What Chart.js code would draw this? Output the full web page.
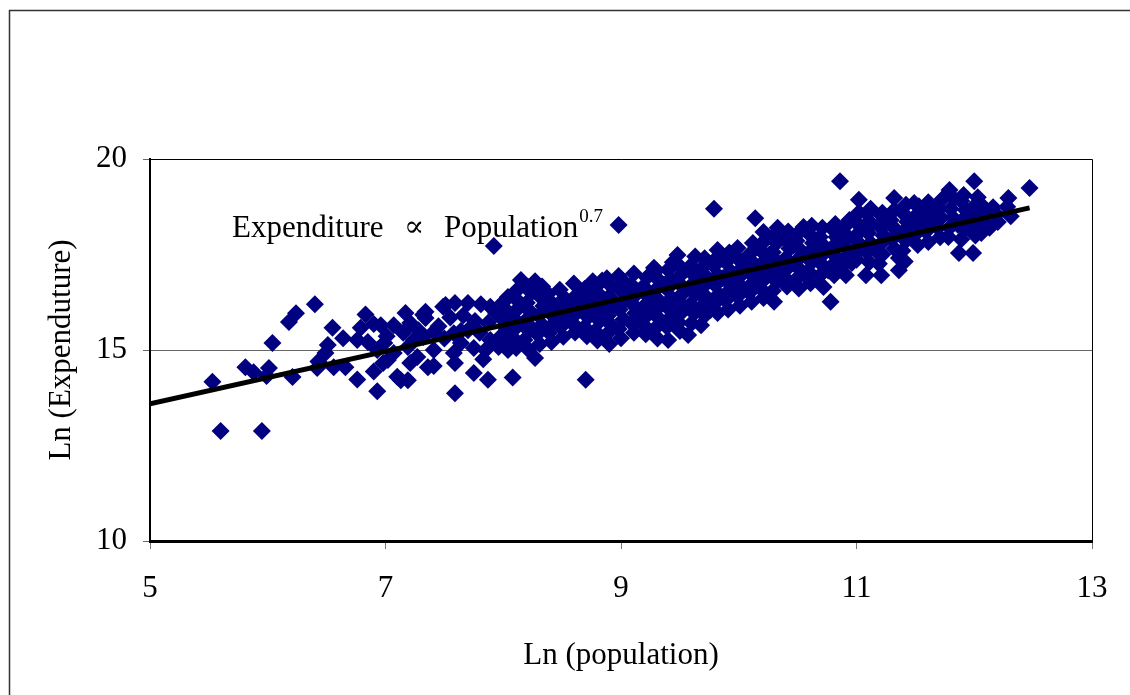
<!DOCTYPE html>
<html>
<head>
<meta charset="utf-8">
<script src="https://cdn.jsdelivr.net/npm/chart.js@4.4.0/dist/chart.umd.min.js"></script>
<style>
  html, body { margin: 0; padding: 0; background: #fff; }
  #wrap { position: relative; width: 1130px; height: 695px; }
</style>
</head>
<body>
<div id="wrap"><canvas id="chart"></canvas></div>
<script>
const xTicks = [5, 7, 9, 11, 13];
const yTicks = [10, 15, 20];
const xTitle = 'Ln (population)';
const yTitle = 'Ln (Expenduture)';
const noteMain = ['Expenditure', '\u221D', 'Population'];
const noteExponent = '0.7';

// fitted line, both ends
const trendLine = [[5, 13.59], [12.47, 18.72]];

// [ln population, ln expenditure]
const cityPoints = [
  // sparse left part
  [5.53,14.17],[5.60,12.88],[5.81,14.55],[5.88,14.42],[5.95,12.88],[6.01,14.53],[5.99,14.32],[6.04,15.18],
  [6.18,15.73],[6.24,15.96],[6.40,16.20],[6.21,14.29],[6.42,14.53],[6.43,14.70],[6.49,14.92],[6.51,15.13],
  [6.55,15.58],[6.64,15.31],[6.56,14.55],[6.66,14.55],[6.76,14.23],[6.76,15.26],[6.83,15.93],[6.79,15.58],
  [6.85,15.21],[6.90,15.68],[6.96,15.65],[6.93,13.92],[6.90,14.44],[6.93,15.00],[6.98,14.66],[6.99,15.18],
  [7.02,14.74],[7.07,15.65],[7.07,14.92],[7.10,14.30],[7.13,14.21],[7.17,15.97],[7.19,15.08],[7.19,14.21],
  [7.21,14.66],[7.21,15.71],[7.24,15.26],[7.27,14.82],[7.32,15.92],[7.32,15.34],[7.34,16.00],[7.34,15.84],
  [7.36,14.55],[7.41,15.47],[7.41,15.00],[7.41,14.58],[7.49,16.13],[7.51,16.18],[7.58,15.44],[7.58,14.92],
  [7.59,14.66],[7.59,16.23],[7.59,13.87],[7.64,15.18],[7.70,16.23],[7.70,15.52],[7.75,15.05],[7.75,14.40],
  [7.81,16.20],[7.83,14.76],[7.87,15.71],[7.87,14.22],[7.89,15.26],[7.89,16.13],[7.92,17.72],[7.96,15.08],
  [7.45,15.62],[7.55,15.85],[7.66,15.90],[7.76,15.76],[7.80,15.45],[7.64,15.50],[7.50,15.30],[7.28,15.52],
  [7.15,15.45],[7.01,15.36],[7.94,15.95],[7.85,15.00],[8.04,15.00],[8.04,16.39],[8.06,15.71],[8.08,14.28],
  [8.15,16.83],[8.21,16.65],[8.17,15.71],[8.26,15.52],[8.27,14.79],[8.70,14.22],
  // outliers above the band
  [8.98,18.27],[9.79,18.70],[10.14,18.45],[10.86,19.42],[12.00,19.42],[12.47,19.24],
  // dense band
  [8.01,15.12],[7.98,15.36],[8.03,15.55],[7.99,15.82],[8.02,16.06],[8.00,16.25],
  [8.11,15.05],[8.09,15.30],[8.12,15.62],[8.08,15.86],[8.13,16.10],[8.10,16.36],[8.12,16.58],
  [8.21,15.02],[8.18,15.26],[8.22,15.50],[8.19,15.76],[8.23,16.00],[8.20,16.24],[8.24,16.50],[8.27,16.80],
  [8.31,15.16],[8.29,15.42],[8.33,15.66],[8.30,15.90],[8.34,16.15],[8.31,16.41],[8.33,16.66],
  [8.41,15.21],[8.39,15.45],[8.43,15.70],[8.40,15.96],[8.42,16.21],[8.38,16.47],
  [8.51,15.35],[8.49,15.61],[8.53,15.85],[8.50,16.10],[8.52,16.36],[8.48,16.58],
  [8.61,15.46],[8.59,15.70],[8.62,15.96],[8.60,16.20],[8.63,16.46],[8.60,16.74],
  [8.71,15.36],[8.69,15.60],[8.72,15.86],[8.70,16.10],[8.73,16.35],[8.69,16.60],[8.76,16.80],
  [8.80,15.25],[8.78,15.50],[8.82,15.76],[8.79,16.00],[8.83,16.25],[8.80,16.50],[8.84,16.82],
  [8.90,15.16],[8.88,15.41],[8.92,15.65],[8.89,15.90],[8.93,16.16],[8.90,16.40],[8.92,16.66],[8.88,16.88],
  [9.00,15.31],[8.98,15.55],[9.02,15.80],[8.99,16.06],[9.03,16.30],[9.00,16.56],[9.02,16.80],[8.98,16.94],
  [9.11,15.45],[9.09,15.70],[9.12,15.96],[9.10,16.20],[9.13,16.46],[9.09,16.70],[9.11,17.00],
  [9.21,15.41],[9.19,15.66],[9.22,15.90],[9.20,16.16],[9.23,16.40],[9.19,16.66],[9.22,16.90],[9.28,17.15],
  [9.31,15.30],[9.29,15.56],[9.33,15.80],[9.30,16.06],[9.32,16.30],[9.29,16.56],[9.33,16.80],[9.30,17.08],
  [9.40,15.26],[9.39,15.60],[9.42,15.85],[9.40,16.10],[9.43,16.36],[9.39,16.60],[9.42,16.86],[9.40,17.10],[9.44,17.30],
  [9.50,15.50],[9.49,15.72],[9.52,16.00],[9.50,16.25],[9.53,16.50],[9.49,16.76],[9.52,17.00],[9.48,17.25],[9.48,17.49],
  [9.57,15.39],[9.60,15.70],[9.62,15.96],[9.59,16.20],[9.63,16.46],[9.60,16.70],[9.62,16.96],[9.59,17.20],[9.63,17.45],
  [9.68,15.65],[9.71,15.90],[9.69,16.16],[9.72,16.40],[9.70,16.66],[9.73,16.90],[9.69,17.16],[9.71,17.40],
  [9.82,15.97],[9.79,16.20],[9.83,16.46],[9.80,16.70],[9.82,16.96],[9.79,17.20],[9.83,17.46],[9.82,17.62],
  [9.91,16.06],[9.89,16.30],[9.92,16.56],[9.90,16.80],[9.93,17.06],[9.89,17.30],[9.92,17.55],
  [10.01,16.16],[9.99,16.40],[10.02,16.66],[10.00,16.90],[10.03,17.16],[9.99,17.40],[9.99,17.67],
  [10.11,16.26],[10.09,16.50],[10.12,16.76],[10.10,17.00],[10.13,17.26],[10.09,17.50],[10.12,17.80],
  [10.21,16.36],[10.19,16.60],[10.22,16.86],[10.20,17.10],[10.23,17.36],[10.19,17.60],[10.22,17.86],[10.21,18.09],
  [10.30,16.26],[10.29,16.55],[10.32,16.80],[10.30,17.06],[10.33,17.30],[10.29,17.56],[10.32,17.80],[10.30,18.00],[10.33,18.20],
  [10.41,16.66],[10.39,16.90],[10.42,17.16],[10.40,17.40],[10.43,17.66],[10.39,17.90],[10.42,18.10],
  [10.51,16.61],[10.49,16.86],[10.52,17.10],[10.50,17.36],[10.53,17.60],[10.49,17.86],[10.52,18.10],[10.55,18.22],
  [10.61,16.75],[10.59,17.06],[10.62,17.30],[10.60,17.56],[10.63,17.80],[10.59,18.06],[10.62,18.25],
  [10.72,16.65],[10.69,16.95],[10.72,17.20],[10.70,17.46],[10.73,17.70],[10.69,17.96],[10.71,18.20],
  [10.78,16.26],[10.81,16.96],[10.79,17.20],[10.82,17.46],[10.80,17.70],[10.83,17.96],[10.79,18.19],[10.82,18.30],
  [10.91,16.96],[10.87,17.17],[10.92,17.46],[10.90,17.70],[10.93,17.96],[10.89,18.20],[10.94,18.40],
  [11.00,17.36],[11.02,17.60],[11.00,17.86],[11.03,18.10],[10.99,18.36],[11.02,18.60],[11.02,18.93],
  [11.08,16.96],[11.11,17.30],[11.09,17.56],[11.12,17.80],[11.10,18.06],[11.13,18.30],[11.09,18.56],[11.12,18.70],
  [11.21,16.96],[11.19,17.26],[11.22,17.50],[11.20,17.76],[11.23,18.00],[11.19,18.26],[11.22,18.50],[11.22,18.59],
  [11.36,17.09],[11.36,17.41],[11.32,17.66],[11.30,17.90],[11.33,18.16],[11.29,18.40],[11.32,18.66],[11.32,18.98],
  [11.41,17.32],[11.39,17.60],[11.42,17.86],[11.40,18.10],[11.43,18.36],[11.39,18.60],[11.42,18.80],
  [11.52,17.75],[11.49,18.00],[11.52,18.26],[11.50,18.50],[11.53,18.76],[11.49,18.85],
  [11.61,17.83],[11.59,18.10],[11.62,18.36],[11.60,18.60],[11.61,18.87],
  [11.71,17.95],[11.69,18.20],[11.72,18.46],[11.70,18.70],[11.73,18.95],
  [11.78,17.96],[11.79,18.20],[11.82,18.46],[11.80,18.70],[11.83,18.95],[11.79,19.19],
  [11.87,17.54],[11.89,17.90],[11.92,18.16],[11.90,18.40],[11.93,18.66],[11.89,18.90],[11.91,19.06],
  [11.99,17.54],[12.01,18.00],[11.99,18.26],[12.02,18.50],[12.00,18.76],[12.03,19.00],
  [12.06,18.06],[12.09,18.30],[12.12,18.56],[12.06,18.80],
  [12.20,18.35],[12.19,18.55],[12.16,18.74],
  [12.31,18.50],[12.28,18.75],[12.29,18.98],
  // extra marks that fill gaps in the band
  [8.45,16.05],[8.56,15.78],[8.66,16.30],[8.86,16.05],[9.06,16.62],[9.16,15.82],[9.26,16.28],[9.36,16.70],
  [9.46,15.95],[9.66,16.52],[9.76,16.05],[9.86,16.88],[9.96,16.58],[10.06,17.30],[10.16,16.95],[10.26,17.50],
  [10.36,16.98],[10.46,17.72],[10.56,16.98],[10.66,17.62],[10.76,17.08],[10.86,17.82],[10.96,17.28],[11.06,18.22],
  [11.16,17.62],[11.26,18.35],[11.46,18.22],[11.56,18.55],[11.66,18.52],[11.86,18.28],[11.96,18.62],[12.13,18.20]
];

const font = { family: "'Liberation Serif', 'DejaVu Serif', serif", size: 31 };

// outer frame + top/right edge of the plot box
const framePlugin = {
  id: 'frame',
  afterDraw(chart) {
    const { ctx, chartArea: a } = chart;
    ctx.save();
    ctx.strokeStyle = '#333';
    ctx.lineWidth = 1.5;
    ctx.beginPath();
    ctx.moveTo(9.5, 700);
    ctx.lineTo(9.5, 10.5);
    ctx.lineTo(1135, 10.5);
    ctx.stroke();
    ctx.strokeStyle = '#000';
    ctx.lineWidth = 1;
    ctx.beginPath();
    ctx.moveTo(a.left, a.top + 0.5);
    ctx.lineTo(a.right + 0.5, a.top + 0.5);
    ctx.lineTo(a.right + 0.5, a.bottom);
    ctx.stroke();
    ctx.restore();
  }
};

// "Expenditure ∝ Population^0.7" note
const notePlugin = {
  id: 'note',
  afterDatasetsDraw(chart) {
    const { ctx, chartArea: a } = chart;
    const x0 = a.left + 82, base = a.top + 78;
    ctx.save();
    ctx.fillStyle = '#000';
    ctx.textBaseline = 'alphabetic';
    ctx.font = `31px ${font.family}`;
    ctx.fillText(noteMain[0], x0, base);
    ctx.font = `30px 'DejaVu Serif', serif`;
    ctx.fillText(noteMain[1], x0 + 172, base - 1);
    ctx.font = `31px ${font.family}`;
    const pw = ctx.measureText(noteMain[2]).width;
    ctx.fillText(noteMain[2], x0 + 212, base);
    ctx.font = `19px ${font.family}`;
    ctx.fillText(noteExponent, x0 + 212 + pw + 1, base - 15);
    ctx.restore();
  }
};

new Chart(document.getElementById('chart'), {
  data: {
    datasets: [
      {
        type: 'line',
        data: trendLine.map(p => ({ x: p[0], y: p[1] })),
        borderColor: '#000',
        borderWidth: 5,
        pointRadius: 0,
        order: 0
      },
      {
        type: 'scatter',
        data: cityPoints.map(p => ({ x: p[0], y: p[1] })),
        pointStyle: 'rectRot',
        pointRadius: 9,
        backgroundColor: '#000080',
        borderColor: '#000080',
        borderWidth: 0,
        order: 1
      }
    ]
  },
  options: {
    responsive: true,
    maintainAspectRatio: false,
    animation: false,
    layout: { padding: { left: 0, top: 159, right: 38, bottom: 0 } },
    plugins: { legend: { display: false }, tooltip: { enabled: false } },
    scales: {
      x: {
        type: 'linear',
        min: 5, max: 13,
        afterFit(s) { s.height = 154; },
        afterBuildTicks(s) { s.ticks = xTicks.map(v => ({ value: v })); },
        ticks: { font, color: '#000', padding: 21 },
        grid: { drawOnChartArea: false, color: '#777', tickLength: 8 },
        border: { color: '#000', width: 3 },
        title: { display: true, text: xTitle, font, color: '#000', padding: { top: 0, bottom: 21 } }
      },
      y: {
        type: 'linear',
        min: 10, max: 20,
        afterFit(s) { s.width = 150; },
        afterBuildTicks(s) { s.ticks = yTicks.map(v => ({ value: v })); },
        ticks: { font, color: '#000', padding: 16 },
        grid: { color: '#666', lineWidth: 1, tickLength: 7 },
        border: { color: '#000', width: 2 },
        title: { display: true, text: yTitle, font, color: '#000', padding: { top: 43, bottom: 0 } }
      }
    }
  },
  plugins: [framePlugin, notePlugin]
});
</script>
</body>
</html>
